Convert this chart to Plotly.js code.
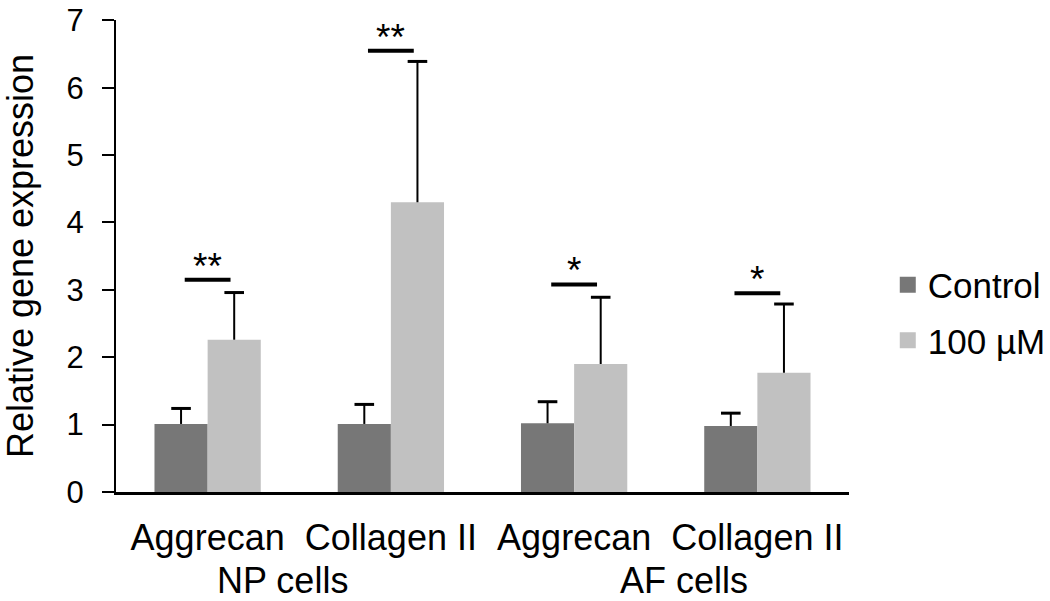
<!DOCTYPE html>
<html>
<head>
<meta charset="utf-8">
<script src="https://cdn.plot.ly/plotly-3.0.1.min.js"></script>
<style>
  html, body { margin: 0; padding: 0; background: #ffffff; }
  #chart { width: 1050px; height: 601px; }
</style>
</head>
<body>
<div id="chart"></div>
<script>
// ---- data ----
const categories = ['Aggrecan', 'Collagen II', 'Aggrecan', 'Collagen II'];
const cellGroups = ['NP cells', 'AF cells'];
const seriesNames = ['Control', '100 µM'];
const controlValues = [1.01, 1.01, 1.02, 0.98];
const controlErrors = [0.23, 0.29, 0.32, 0.19];
const treatedValues = [2.26, 4.30, 1.90, 1.77];
const treatedErrors = [0.70, 2.09, 0.99, 1.02];
const sigLevels = [3.15, 6.55, 3.08, 2.95];
const sigLabels = ['**', '**', '*', '*'];
const yMax = 7;

// ---- styling ----
const FONT = 'Liberation Sans, Arial, Helvetica, sans-serif';
const colors = ['#777777', '#c1c1c1'];
const BARGAP = 0.42;
const half = (1 - BARGAP) / 4; // half offset of each bar from group centre
const xIdx = categories.map((_, i) => i);

function barTrace(name, vals, errs, color) {
  return {
    type: 'bar', name: name, x: xIdx, y: vals,
    marker: { color: color, line: { width: 0 } },
    showlegend: false,
    error_y: { type: 'data', symmetric: false, array: errs,
               arrayminus: errs.map(() => 0), width: 0, thickness: 2, color: '#000000' },
    hoverinfo: 'skip'
  };
}
function capTrace(vals, errs, sign) {
  return {
    type: 'scatter', mode: 'markers',
    x: xIdx.map(i => i + sign * half),
    y: vals.map((v, i) => v + errs[i]),
    marker: { symbol: 'line-ew', size: 14, line: { width: 3, color: '#000000' }, color: '#000000' },
    showlegend: false, hoverinfo: 'skip', cliponaxis: false
  };
}
function legendTrace(name, color, grp) {
  return {
    type: 'scatter', mode: 'markers', name: name, x: [null], y: [null],
    legendgroup: grp,
    marker: { symbol: 'square', size: 17, color: color },
    hoverinfo: 'skip'
  };
}

const traces = [
  barTrace(seriesNames[0], controlValues, controlErrors, colors[0]),
  barTrace(seriesNames[1], treatedValues, treatedErrors, colors[1]),
  capTrace(controlValues, controlErrors, -1),
  capTrace(treatedValues, treatedErrors, 1),
  legendTrace(seriesNames[0], colors[0], 'g1'),
  legendTrace(seriesNames[1], colors[1], 'g2')
];

const shapes = sigLevels.map((lv, i) => ({
  type: 'line', xref: 'x', yref: 'y',
  x0: i - 0.125, x1: i + 0.125, y0: lv, y1: lv,
  line: { color: '#000000', width: 4 }
}));

const annotations = sigLevels.map((lv, i) => ({
  xref: 'x', yref: 'y', x: i, y: lv, text: sigLabels[i],
  showarrow: false, xanchor: 'center', yanchor: 'bottom', yshift: -9,
  font: { family: FONT, size: 37, color: '#000000' }
}));
cellGroups.forEach((g, gi) => {
  annotations.push({
    xref: 'x', yref: 'paper', x: gi * 2 + 0.5, y: -0.187,
    xshift: gi === 0 ? -17 : 18,
    text: g, showarrow: false, xanchor: 'center', yanchor: 'middle',
    font: { family: FONT, size: 36, color: '#000000' }
  });
});

const layout = {
  width: 1050, height: 601,
  margin: { l: 116, r: 201, t: 20, b: 109, pad: 0, autoexpand: false },
  paper_bgcolor: '#ffffff', plot_bgcolor: '#ffffff',
  font: { family: FONT, size: 36, color: '#000000' },
  barmode: 'group', bargap: BARGAP, bargroupgap: 0,
  showlegend: true,
  legend: {
    xref: 'container', yref: 'container',
    x: 0.8455, xanchor: 'left', y: 0.48, yanchor: 'middle',
    traceorder: 'grouped', tracegroupgap: 7,
    font: { family: FONT, size: 35, color: '#000000' },
    bgcolor: 'rgba(0,0,0,0)', borderwidth: 0
  },
  xaxis: {
    type: 'linear', range: [-0.5, 3.5],
    tickmode: 'array', tickvals: xIdx, ticktext: categories,
    ticks: '', showgrid: false, zeroline: false,
    showline: true, linecolor: '#000000', linewidth: 2.5,
    tickfont: { family: FONT, size: 36, color: '#000000' },
    ticklabelstandoff: 12, ticklabeloverflow: 'allow',
    automargin: false, fixedrange: true
  },
  yaxis: {
    range: [0, yMax + 0.005], tickmode: 'linear', tick0: 0, dtick: 1,
    ticks: 'outside', ticklen: 12, tickwidth: 2, tickcolor: '#000000',
    showgrid: false, zeroline: false,
    showline: true, linecolor: '#000000', linewidth: 2,
    tickfont: { family: FONT, size: 31, color: '#000000' },
    ticklabelstandoff: 12, ticklabeloverflow: 'allow',
    title: { text: 'Relative gene expression', standoff: 24,
             font: { family: FONT, size: 36, color: '#000000' } },
    automargin: false, fixedrange: true
  },
  shapes: shapes,
  annotations: annotations
};

Plotly.newPlot('chart', traces, layout, { displayModeBar: false, staticPlot: true });
</script>
</body>
</html>
